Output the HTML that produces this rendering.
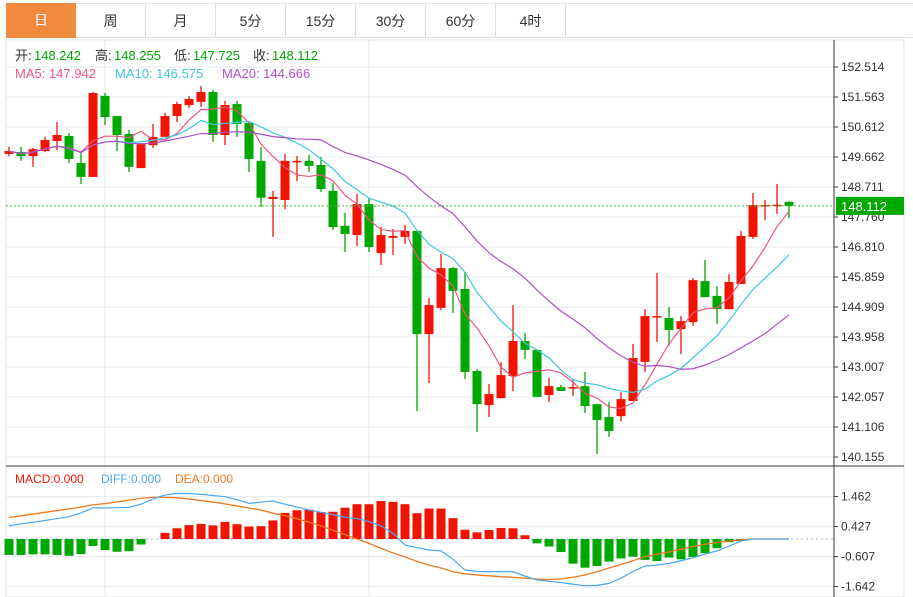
<!DOCTYPE html>
<html><head><meta charset="utf-8"><style>
body{margin:0;background:#fff;font-family:"Liberation Sans","Noto Sans CJK SC",sans-serif;}
#wrap{position:relative;width:913px;height:597px;overflow:hidden;}
.tab{position:absolute;top:3px;height:35px;line-height:35px;text-align:center;font-size:14px;color:#333;border-right:1px solid #ddd;border-top:1px solid #e3e3e3;border-bottom:1px solid #e3e3e3;box-sizing:border-box;}
.tab.active{background:#f28a3d;color:#fff;border:none;}
</style></head><body>
<div id="wrap">
<div class="tab active" style="left:6px;width:70px">日</div>
<div class="tab" style="left:76px;width:70px">周</div>
<div class="tab" style="left:146px;width:70px">月</div>
<div class="tab" style="left:216px;width:70px">5分</div>
<div class="tab" style="left:286px;width:70px">15分</div>
<div class="tab" style="left:356px;width:70px">30分</div>
<div class="tab" style="left:426px;width:70px">60分</div>
<div class="tab" style="left:496px;width:70px">4时</div>
<div class="tab" style="left:566px;width:347px;border-right:none"></div>
<svg id="svg" width="913" height="597" style="position:absolute;left:0;top:0"></svg>
</div>
<script>
const opens=[149.76,149.82,149.69,149.85,150.17,150.33,149.47,149.03,151.60,150.96,150.39,149.31,150.04,150.30,150.96,151.31,151.41,151.72,150.36,151.34,150.74,149.54,148.33,148.30,149.50,149.54,149.41,148.59,147.48,147.19,148.17,146.62,147.10,147.13,147.32,144.05,144.88,146.14,145.48,142.88,141.80,142.02,142.72,143.83,143.55,142.12,142.37,142.34,142.40,141.83,141.42,141.45,141.93,143.17,144.59,144.56,144.21,144.43,145.73,145.26,144.84,145.64,147.13,148.11,148.13,148.242];
const highs=[149.98,149.98,149.95,150.30,150.77,150.42,149.85,151.72,151.69,150.96,150.52,150.07,150.71,151.06,151.41,151.60,151.91,151.79,151.44,151.44,150.77,149.98,148.59,149.76,149.69,149.73,149.66,148.84,147.89,148.49,148.36,147.44,147.38,147.51,147.32,145.19,146.59,146.18,146.02,142.94,142.47,143.16,144.97,144.08,143.55,142.66,142.44,142.59,142.85,141.83,141.90,142.21,143.74,144.84,145.99,144.91,144.62,145.83,146.40,145.57,145.95,147.32,148.52,148.30,148.81,148.255];
const lows=[149.69,149.54,149.35,149.82,149.88,149.47,148.81,149.03,150.68,149.85,149.19,149.31,149.95,150.30,150.77,151.22,151.25,150.14,150.04,150.30,149.19,148.08,147.13,148.01,148.90,149.19,148.55,147.35,146.65,146.84,146.65,146.24,146.56,146.91,141.61,142.50,144.81,144.72,142.63,140.95,141.42,142.02,142.24,143.26,142.06,141.89,142.25,142.09,141.55,140.25,140.79,141.29,141.93,142.85,143.80,143.67,143.42,144.31,145.22,144.37,144.84,145.64,147.06,147.66,147.86,147.725];
const closes=[149.85,149.69,149.91,150.20,150.36,149.60,149.03,151.69,150.93,150.36,149.35,150.07,150.30,150.96,151.34,151.50,151.72,150.36,151.31,150.71,149.60,148.37,148.40,149.54,149.54,149.38,148.65,147.44,147.22,148.17,146.81,147.19,147.16,147.32,144.05,144.97,146.14,145.42,142.85,141.83,142.15,142.75,143.83,143.55,142.06,142.40,142.25,142.37,141.77,141.33,140.98,141.99,143.29,144.62,144.62,144.18,144.46,145.76,145.22,144.84,145.70,147.16,148.14,148.14,148.15,148.112];
const priceTicks=[152.514,151.563,150.612,149.662,148.711,147.760,146.810,145.859,144.909,143.958,143.007,142.057,141.106,140.155];
const macdHist=[-0.55,-0.55,-0.53,-0.53,-0.55,-0.58,-0.52,-0.24,-0.38,-0.44,-0.42,-0.19,0,0.21,0.37,0.48,0.52,0.47,0.59,0.51,0.43,0.44,0.64,0.90,0.99,1.01,0.93,0.94,1.08,1.20,1.20,1.31,1.28,1.20,0.89,1.05,1.05,0.72,0.32,0.23,0.31,0.38,0.37,0.13,-0.15,-0.26,-0.45,-0.85,-0.99,-0.93,-0.78,-0.67,-0.61,-0.72,-0.76,-0.64,-0.70,-0.62,-0.49,-0.32,-0.11,-0.07,0,0,0,0];
const diffLine=[0.46,0.52,0.58,0.64,0.70,0.77,0.90,1.08,1.07,1.08,1.09,1.20,1.38,1.52,1.57,1.57,1.54,1.50,1.46,1.36,1.23,1.27,1.31,1.20,1.10,1.00,0.92,0.84,0.75,0.70,0.60,0.45,0.20,-0.21,-0.30,-0.38,-0.41,-0.70,-1.07,-1.12,-1.13,-1.12,-1.13,-1.28,-1.41,-1.46,-1.50,-1.56,-1.61,-1.60,-1.53,-1.35,-1.12,-0.93,-0.90,-0.84,-0.75,-0.65,-0.52,-0.41,-0.25,-0.07,0,0,0,0];
const deaLine=[0.74,0.80,0.86,0.92,0.98,1.04,1.10,1.18,1.22,1.28,1.34,1.40,1.44,1.44,1.42,1.38,1.33,1.27,1.21,1.14,1.07,1.00,0.89,0.80,0.70,0.58,0.45,0.30,0.15,0,-0.15,-0.32,-0.48,-0.62,-0.77,-0.90,-1.00,-1.13,-1.20,-1.24,-1.27,-1.30,-1.32,-1.35,-1.38,-1.40,-1.38,-1.32,-1.24,-1.13,-1.00,-0.88,-0.75,-0.61,-0.52,-0.45,-0.35,-0.26,-0.18,-0.12,-0.07,-0.03,0,0,0,0];
const macdTicks=[1.462,0.427,-0.607,-1.642];

const NS='http://www.w3.org/2000/svg';
const svg=document.getElementById('svg');
function mk(tag,attrs,parent){const e=document.createElementNS(NS,tag);for(const k in attrs)e.setAttribute(k,attrs[k]);(parent||svg).appendChild(e);return e;}
const xOf=i=>9+12*i;
const yP=p=>67+(152.514-p)*31.556;
const yM=v=>539-v*29;
const RED='#f01400',GREEN='#00a800';

// frame
let e;
e=mk('rect',{x:6,y:40,width:898,height:557,fill:'none',stroke:'#e0e0e0'});

// gridlines
priceTicks.forEach(t=>{const y=yP(t);
 e=mk('line',{x1:6,x2:834,y1:y,y2:y,stroke:'#e3eaf0'});
 
 e=mk('line',{x1:834,x2:838,y1:y,y2:y,stroke:'#333'});
 
 e=mk('text',{x:841,y:y+4,'font-size':12,fill:'#333'});e.textContent=t.toFixed(3);
 
});
macdTicks.forEach(t=>{const y=yM(t);
 e=mk('line',{x1:6,x2:834,y1:y,y2:y,stroke:'#e3eaf0'});
 
 e=mk('line',{x1:834,x2:838,y1:y,y2:y,stroke:'#333'});
 
 e=mk('text',{x:841,y:y+4,'font-size':12,fill:'#333'});e.textContent=t.toFixed(3);
 
});
[105,369].forEach(x=>{
 e=mk('line',{x1:x,x2:x,y1:40,y2:597,stroke:'#e3eaf0'});
 
});
e=mk('line',{x1:834,x2:834,y1:40,y2:597,stroke:'#333'});

e=mk('line',{x1:6,x2:904,y1:466,y2:466,stroke:'#333'});


// candles
for(let i=0;i<opens.length;i++){
 const up=closes[i]>=opens[i],c=up?RED:GREEN,x=xOf(i);
 const g=mk('g',{});
 
 mk('line',{x1:x,x2:x,y1:yP(highs[i]),y2:yP(lows[i]),stroke:c,'stroke-width':1.3},g);
 const top=yP(Math.max(opens[i],closes[i])),bot=yP(Math.min(opens[i],closes[i]));
 mk('rect',{x:x-4.5,y:top,width:9,height:Math.max(1.5,bot-top),fill:c},g);
}
// MAs
function ma(n){return closes.map((_,i)=>{const s=closes.slice(Math.max(0,i-n+1),i+1);return s.reduce((a,b)=>a+b,0)/s.length;});}
[[5,'#ee5580','ma5-line'],[10,'#3cc8dc','ma10-line'],[20,'#b050c8','ma20-line']].forEach(([n,col,name])=>{
 const m=ma(n);
 e=mk('polyline',{points:m.map((v,i)=>xOf(i)+','+yP(v)).join(' '),fill:'none',stroke:col,'stroke-width':1.2});
 
});
// last price line
const lastY=yP(closes[closes.length-1]);
e=mk('line',{x1:6,x2:834,y1:lastY,y2:lastY,stroke:'#3cb83c','stroke-dasharray':'2,2'});

e=mk('rect',{x:836,y:lastY-9,width:68,height:18,fill:GREEN});

e=mk('text',{x:841,y:lastY+5,'font-size':13,fill:'#fff'});e.textContent=closes[closes.length-1].toFixed(3);


// MACD histogram
e=mk('line',{x1:6,x2:834,y1:yM(0),y2:yM(0),stroke:'#9ad','stroke-dasharray':'2,3'});

macdHist.forEach((v,i)=>{
 if(v===0)return;
 const y0=yM(0),y1=yM(v);
 e=mk('rect',{x:xOf(i)-4.5,y:Math.min(y0,y1),width:9,height:Math.abs(y1-y0),fill:v>0?RED:GREEN});
 
});
e=mk('polyline',{points:deaLine.map((v,i)=>xOf(i)+','+yM(v)).join(' '),fill:'none',stroke:'#f07820','stroke-width':1.3});

e=mk('polyline',{points:diffLine.map((v,i)=>xOf(i)+','+yM(v)).join(' '),fill:'none',stroke:'#4aa8f0','stroke-width':1.2});


// legends
function txt(x,y,s,col,size,name){const t=mk('text',{x:x,y:y,'font-size':size,fill:col});t.textContent=s;
 return t;}
txt(15,60,'开:','#333',13,'open-label');txt(34,60,'148.242','#00a800',13,'open-value');
txt(95,60,'高:','#333',13,'high-label');txt(114,60,'148.255','#00a800',13,'high-value');
txt(174,60,'低:','#333',13,'low-label');txt(193,60,'147.725','#00a800',13,'low-value');
txt(253,60,'收:','#333',13,'close-label');txt(272,60,'148.112','#00a800',13,'close-value');
txt(15,78,'MA5: 147.942','#ee5580',13,'ma5-legend');
txt(115,78,'MA10: 146.575','#3cc8dc',13,'ma10-legend');
txt(222,78,'MA20: 144.666','#b050c8',13,'ma20-legend');
txt(15,483,'MACD:0.000','#f01400',12,'macd-legend');
txt(101,483,'DIFF:0.000','#4aa8f0',12,'diff-legend');
txt(175,483,'DEA:0.000','#f07820',12,'dea-legend');
</script>
</body></html>
